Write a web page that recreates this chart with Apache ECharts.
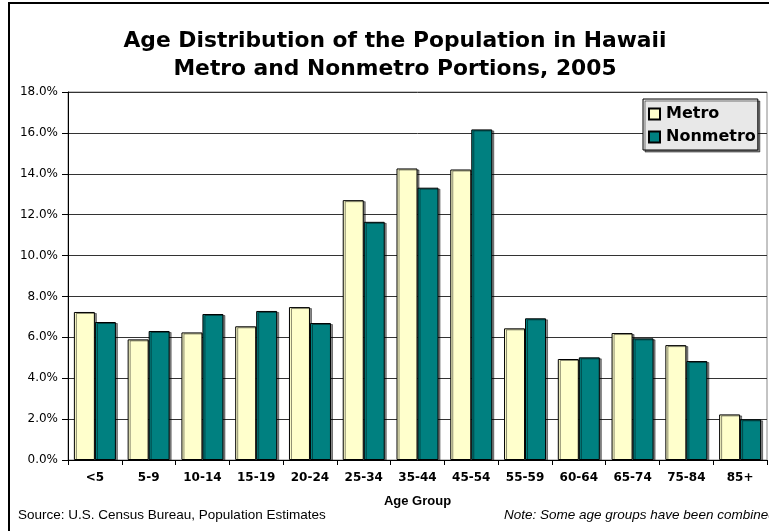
<!DOCTYPE html>
<html><head><meta charset="utf-8">
<script src="https://cdn.jsdelivr.net/npm/echarts@6/dist/echarts.min.js"></script>
<style>html,body{margin:0;padding:0;background:#fff;}#c{width:769px;height:531px;}</style>
</head><body><div id="c"></div>
<script>
const categories = ['<5','5-9','10-14','15-19','20-24','25-34','35-44','45-54','55-59','60-64','65-74','75-84','85+'];
const metro    = [7.24, 5.90, 6.24, 6.54, 7.48, 12.71, 14.26, 14.21, 6.44, 4.94, 6.21, 5.62, 2.23];
const nonmetro = [6.75, 6.31, 7.14, 7.29, 6.70, 11.65, 13.32, 16.17, 6.93, 5.02, 5.95, 4.84, 1.99];
const yTicks = {min: 0, max: 18, interval: 2};
const titleLines = ['Age Distribution of the Population in Hawaii', 'Metro and Nonmetro Portions, 2005'];
const xAxisName = 'Age Group';
const sourceText = 'Source: U.S. Census Bureau, Population Estimates';
const noteText = 'Note: Some age groups have been combined';

const chart = echarts.init(document.getElementById('c'), null, {renderer: 'canvas'});
const barStyle = (c) => ({
  color: c, borderColor: '#000', borderWidth: 1,
  shadowColor: 'rgba(0,0,0,0.45)', shadowOffsetX: 2, shadowOffsetY: 1, shadowBlur: 0
});
chart.setOption({
  animation: false,
  backgroundColor: '#fff',
  title: {
    text: titleLines.join('\n'),
    left: 390, textAlign: 'center', top: 22,
    textStyle: {fontFamily: 'DejaVu Sans', fontWeight: 'bold', fontSize: 21.8, lineHeight: 28, color: '#000'}
  },
  legend: {
    orient: 'vertical', left: 643, top: 99,
    backgroundColor: '#e8e8e8', borderColor: '#000', borderWidth: 1, borderRadius: 0,
    padding: [7, 2, 5, 5], itemGap: 7,
    itemWidth: 11, itemHeight: 11, icon: 'rect',
    shadowColor: 'rgba(0,0,0,0.5)', shadowOffsetX: 2, shadowOffsetY: 2,
    textStyle: {fontFamily: 'DejaVu Sans', fontWeight: 'bold', fontSize: 16, color: '#000', padding: [0,0,0,1]},
    data: ['Metro', 'Nonmetro']
  },
  grid: {left: 68, right: 2, top: 92, bottom: 71, show: true, borderColor: '#888', borderWidth: 1},
  xAxis: {
    type: 'category', data: categories,
    name: xAxisName, nameLocation: 'middle', nameGap: 35,
    nameTextStyle: {fontFamily: 'Liberation Sans', fontWeight: 'bold', fontSize: 13, color: '#000'},
    axisLine: {lineStyle: {color: '#000', width: 1}},
    axisTick: {show: true, length: 5, lineStyle: {color: '#000'}, alignWithLabel: false},
    axisLabel: {fontFamily: 'DejaVu Sans', fontWeight: 'bold', fontSize: 12, color: '#000', margin: 12, interval: 0}
  },
  yAxis: {
    type: 'value', min: yTicks.min, max: yTicks.max, interval: yTicks.interval,
    axisLine: {show: true, lineStyle: {color: '#000', width: 1}},
    axisTick: {show: true, length: 6, inside: false, lineStyle: {color: '#000'}},
    axisLabel: {fontFamily: 'DejaVu Sans', fontSize: 12, color: '#000', margin: 10,
      formatter: (v) => v.toFixed(1) + '%'},
    splitLine: {show: true, lineStyle: {color: '#333', width: 1}}
  },
  series: [
    {name: 'Metro', type: 'bar', data: metro, barWidth: 21, barGap: '0%', itemStyle: barStyle('#ffffcc')},
    {name: 'Nonmetro', type: 'bar', data: nonmetro, barWidth: 21, barGap: '0%', itemStyle: barStyle('#008080')}
  ],
  graphic: [
    {type: 'rect', shape: {x: 9, y: 3, width: 820, height: 600}, style: {fill: 'none', stroke: '#000', lineWidth: 2}, silent: true, z: 100},
    {type: 'text', left: 18, top: 508, style: {text: sourceText, font: '13.5px "Liberation Sans"', fill: '#000'}},
    {type: 'text', left: 504, top: 508, style: {text: noteText, font: 'italic 13.5px "Liberation Sans"', fill: '#000'}}
  ]
});
</script></body></html>
